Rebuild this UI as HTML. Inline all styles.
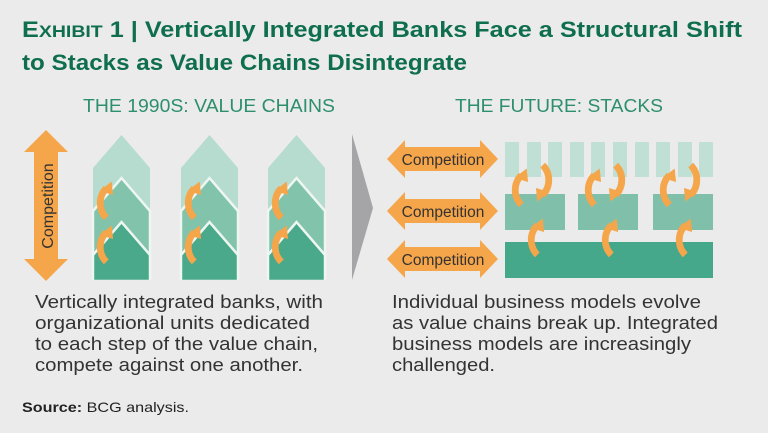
<!DOCTYPE html>
<html><head><meta charset="utf-8"><style>
html,body{margin:0;padding:0;background:#ebebec;}
svg{display:block;font-family:"Liberation Sans",sans-serif;}
</style></head><body>
<svg width="768" height="433" viewBox="0 0 768 433" xmlns="http://www.w3.org/2000/svg">
<rect width="768" height="433" fill="#ebebec"/>
<defs>
<g id="curl0"><path d="M-2,14 C-8,8 -8,-2 -2,-8" fill="none" stroke="#f5a54a" stroke-width="5"/><polygon points="-7,-6 2,-13 3,-3" fill="#f5a54a"/></g>
<g id="curl"><use href="#curl0" transform="scale(1.35)"/></g>
<g id="chev">
<polygon points="0,33 28.5,0 57,33 57,145 0,145" fill="#b6dccf"/>
<polygon points="0,76 28.5,43 57,76 57,145 0,145" fill="#82c3ab" stroke="#eef6f2" stroke-width="2.5"/>
<polygon points="0,120 28.5,87 57,120 57,146 0,146" fill="#4aa98a" stroke="#eef6f2" stroke-width="2.5"/>
<rect x="-2" y="145" width="61" height="4" fill="#ebebec"/>
<use href="#curl" x="16" y="64"/>
<use href="#curl" x="16" y="108"/>
</g>
<g id="harr"><polygon points="0,0 18,-19 18,-12 93,-12 93,-19 111,0 93,19 93,12 18,12 18,19" fill="#f5a54a"/></g>
</defs>
<text x="22" y="37" font-size="22" font-weight="bold" fill="#0e6e4e" textLength="720" lengthAdjust="spacingAndGlyphs">E<tspan font-size="17">XHIBIT</tspan> 1 | Vertically Integrated Banks Face a Structural Shift</text>
<text x="22" y="70" font-size="22" font-weight="bold" fill="#0e6e4e" textLength="445" lengthAdjust="spacingAndGlyphs">to Stacks as Value Chains Disintegrate</text>
<text x="83" y="112" font-size="18" fill="#2e8f6c" textLength="252" lengthAdjust="spacingAndGlyphs">THE 1990S: VALUE CHAINS</text>
<text x="455" y="112" font-size="18" fill="#2e8f6c" textLength="208" lengthAdjust="spacingAndGlyphs">THE FUTURE: STACKS</text>
<polygon points="46,130 68,152 58,152 58,259 68,259 46,281 24,259 34,259 34,152 24,152" fill="#f5a54a"/>
<text transform="translate(53,206) rotate(-90)" text-anchor="middle" font-size="16" fill="#333">Competition</text>
<use href="#chev" x="93" y="135"/>
<use href="#chev" x="181" y="135"/>
<use href="#chev" x="268" y="135"/>
<polygon points="352,134 373,208 352,280" fill="#a5a5a8"/>
<use href="#harr" x="387" y="159"/>
<use href="#harr" x="387" y="211"/>
<use href="#harr" x="387" y="259"/>
<text x="443" y="165" text-anchor="middle" font-size="15.5" fill="#333">Competition</text>
<text x="443" y="217" text-anchor="middle" font-size="15.5" fill="#333">Competition</text>
<text x="443" y="265" text-anchor="middle" font-size="15.5" fill="#333">Competition</text>
<g fill="#c0e0d5">
<rect x="505" y="142" width="14" height="35"/><rect x="527" y="142" width="14" height="35"/><rect x="548" y="142" width="14" height="35"/><rect x="570" y="142" width="14" height="35"/><rect x="591" y="142" width="14" height="35"/><rect x="613" y="142" width="14" height="35"/><rect x="635" y="142" width="14" height="35"/><rect x="656" y="142" width="14" height="35"/><rect x="678" y="142" width="14" height="35"/><rect x="699" y="142" width="14" height="35"/>
</g>
<g fill="#80c0aa">
<rect x="505" y="194" width="60" height="36"/><rect x="578" y="194" width="60" height="36"/><rect x="653" y="194" width="60" height="36"/>
</g>
<rect x="505" y="242" width="208" height="36" fill="#45a88a"/>
<g>
<use href="#curl" x="524" y="186"/><use href="#curl" transform="translate(540,184) rotate(180)"/>
<use href="#curl" x="597" y="186"/><use href="#curl" transform="translate(613,184) rotate(180)"/>
<use href="#curl" x="672" y="186"/><use href="#curl" transform="translate(688,184) rotate(180)"/>
<use href="#curl" x="540" y="236"/><use href="#curl" x="614" y="236"/><use href="#curl" x="688" y="236"/>
</g>
<g font-size="18" fill="#333">
<text x="35" y="308" textLength="288" lengthAdjust="spacingAndGlyphs">Vertically integrated banks, with</text>
<text x="35" y="329" textLength="275" lengthAdjust="spacingAndGlyphs">organizational units dedicated</text>
<text x="35" y="350" textLength="283" lengthAdjust="spacingAndGlyphs">to each step of the value chain,</text>
<text x="35" y="371" textLength="268" lengthAdjust="spacingAndGlyphs">compete against one another.</text>
<text x="392" y="308" textLength="309" lengthAdjust="spacingAndGlyphs">Individual business models evolve</text>
<text x="392" y="329" textLength="326" lengthAdjust="spacingAndGlyphs">as value chains break up. Integrated</text>
<text x="392" y="350" textLength="299" lengthAdjust="spacingAndGlyphs">business models are increasingly</text>
<text x="392" y="371" textLength="103" lengthAdjust="spacingAndGlyphs">challenged.</text>
</g>
<text x="22" y="412" font-size="14" fill="#222" textLength="167" lengthAdjust="spacingAndGlyphs"><tspan font-weight="bold">Source:</tspan> BCG analysis.</text>
</svg>
</body></html>
